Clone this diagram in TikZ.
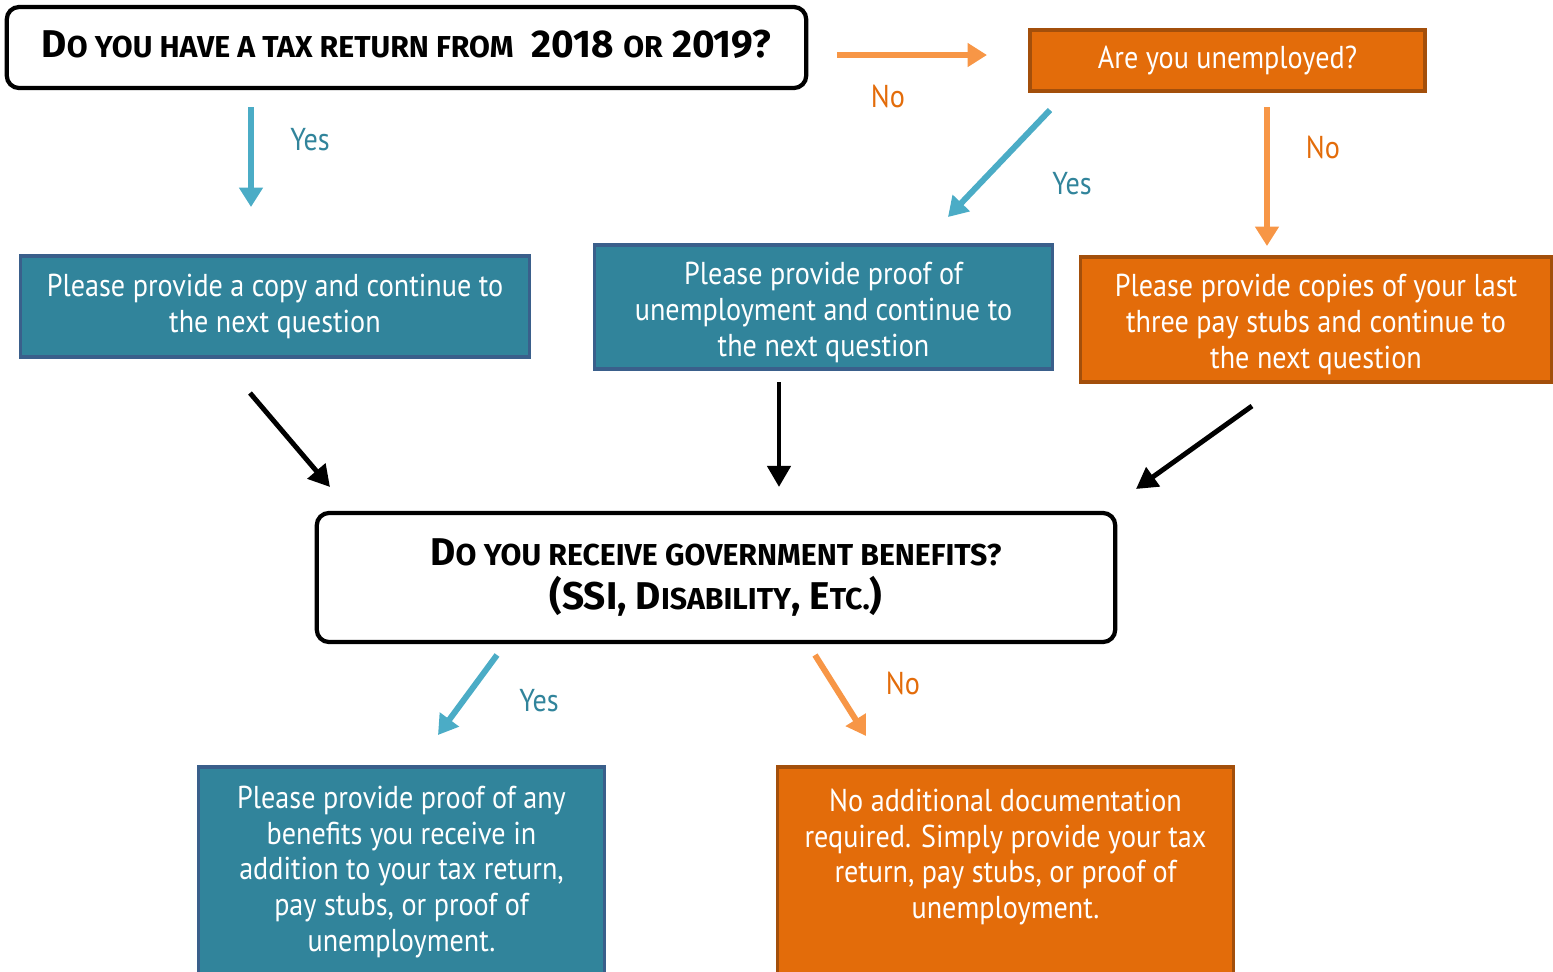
\documentclass[tikz,border=0pt]{standalone}
\usepackage{fontspec}
\setmainfont[FakeStretch=0.89]{PT Sans}
\newfontfamily\headfont[FakeStretch=1.0]{Fira Sans}
\usetikzlibrary{arrows.meta}

\definecolor{tealfill}{HTML}{31849B}
\definecolor{tealline}{HTML}{3A5F8B}
\definecolor{tealarrow}{HTML}{4BACC6}
\definecolor{orfill}{HTML}{E36C0A}
\definecolor{orline}{HTML}{A34F0B}
\definecolor{orarrow}{HTML}{F79646}

\newcommand{\smallcap}[1]{{\fontsize{8.6}{10}\selectfont #1}}

\begin{document}
\begin{tikzpicture}[x=0.01cm, y=-0.01cm,
    box/.style={draw, line width=0.9pt, text=white, align=center, inner sep=0pt,
        font=\fontsize{9}{10.2}\selectfont},
    tealbox/.style={box, fill=tealfill, draw=tealline},
    orbox/.style={box, fill=orfill, draw=orline},
    qbox/.style={draw=black, line width=1.2pt, rounded corners=3.5pt, fill=white,
        align=center, inner sep=0pt, font=\headfont\bfseries\fontsize{11}{12.3}\selectfont},
    yesarrow/.style={draw=tealarrow, line width=1.7pt, -{Triangle[width=6.5pt,length=5.5pt]}},
    noarrow/.style={draw=orarrow, line width=1.7pt, -{Triangle[width=6.5pt,length=5.5pt]}},
    nextarrow/.style={draw=black, line width=1.4pt, -{Triangle[width=6.5pt,length=6pt]}},
    yeslabel/.style={text=tealfill, font=\fontsize{9}{10}\selectfont},
    nolabel/.style={text=orfill, font=\fontsize{9}{10}\selectfont}]
    \useasboundingbox (0,0) rectangle (1553,972);

    % questions
    \node[qbox, minimum width=7.99cm, minimum height=0.81cm] (q1) at (406.5,47.5)
        {\raisebox{0.07cm}{D\smallcap{O YOU HAVE A TAX RETURN FROM}\ \ 2018 \smallcap{OR} 2019?}};
    \node[qbox, minimum width=7.98cm, minimum height=1.29cm] (q2) at (716,577.5)
        {D\smallcap{O YOU RECEIVE GOVERNMENT BENEFITS?}\\
         (SSI, D\smallcap{ISABILITY}, E\smallcap{TC.})};

    % answer boxes
    \node[orbox, line width=1.3pt, minimum width=3.95cm, minimum height=0.61cm] (unemp) at (1227.5,60.5)
        {Are you unemployed?};
    \node[tealbox, minimum width=5.08cm, minimum height=1.01cm] (copy) at (275,306.5)
        {Please provide a copy and continue to\\ the next question};
    \node[tealbox, minimum width=4.57cm, minimum height=1.24cm] (proof) at (823.5,307)
        {\rule{0pt}{9.5pt}Please provide proof of\\ unemployment and continue to\\ the next question};
    \node[orbox, minimum width=4.70cm, minimum height=1.25cm] (stubs) at (1316,319.5)
        {\rule{0pt}{9pt}Please provide copies of your last\\ three pay stubs and continue to\\ the next question};
    \node[tealbox, minimum width=4.05cm, minimum height=2.10cm] (bens) at (401.5,872)
        {Please provide proof of any\\ benefits you receive in\\ addition to your tax return,\\
         pay stubs, or proof of\\ unemployment.};
    \node[orbox, minimum width=4.55cm, minimum height=2.10cm] (noadd) at (1005.5,872)
        {No additional documentation\\ required. Simply provide your tax\\ return, pay stubs, or proof of\\
         unemployment.\par\vspace*{0.3cm}};

    % arrow ends
    \coordinate (q1yes) at (251,107);   \coordinate (copyin) at (251,207);
    \coordinate (q1no) at (837,55);     \coordinate (unempin) at (987,55);
    \coordinate (unyes) at (1050,110);  \coordinate (proofin) at (948,217);
    \coordinate (unno) at (1267,107);   \coordinate (stubsin) at (1267,246);
    \coordinate (copyout) at (250,393); \coordinate (q2ina) at (330,487);
    \coordinate (proofout) at (779,382);\coordinate (q2inb) at (779,487);
    \coordinate (stubsout) at (1252,406);\coordinate (q2inc) at (1136,489);
    \coordinate (q2yes) at (497,655);   \coordinate (bensin) at (438,735);
    \coordinate (q2no) at (815,655);    \coordinate (noaddin) at (866,736);

    \draw[yesarrow] (q1yes) -- (copyin);
    \draw[noarrow] (q1no) -- (unempin);
    \draw[yesarrow] (unyes) -- (proofin);
    \draw[noarrow] (unno) -- (stubsin);
    \draw[nextarrow] (copyout) -- (q2ina);
    \draw[nextarrow] (proofout) -- (q2inb);
    \draw[nextarrow] (stubsout) -- (q2inc);
    \draw[yesarrow] (q2yes) -- (bensin);
    \draw[noarrow] (q2no) -- (noaddin);

    % labels
    \node[yeslabel] (l1) at (310,140) {Yes};
    \node[nolabel] (l2) at (888,96) {No};
    \node[yeslabel] (l3) at (1072,184) {Yes};
    \node[nolabel] (l4) at (1323,147) {No};
    \node[yeslabel] (l5) at (539,701) {Yes};
    \node[nolabel] (l6) at (903,683) {No};
\end{tikzpicture}
\end{document}
